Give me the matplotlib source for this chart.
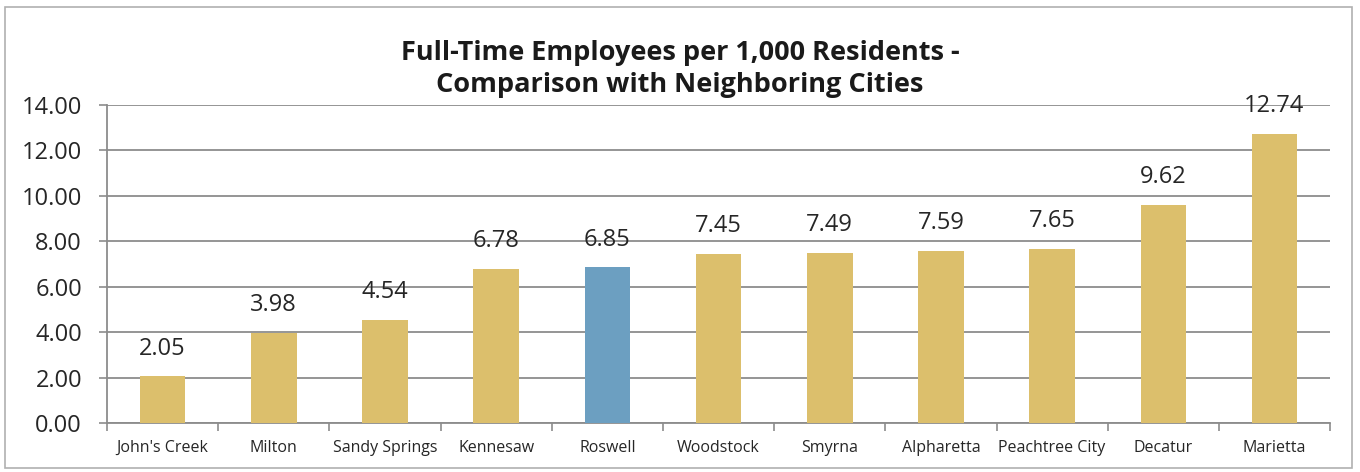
import matplotlib
matplotlib.use("Agg")
import matplotlib.pyplot as plt
from matplotlib.patches import Rectangle
import numpy as np

cities = ["John's Creek", "Milton", "Sandy Springs", "Kennesaw", "Roswell",
          "Woodstock", "Smyrna", "Alpharetta", "Peachtree City", "Decatur", "Marietta"]
employees_per_1000 = [2.05, 3.98, 4.54, 6.78, 6.85, 7.45, 7.49, 7.59, 7.65, 9.62, 12.74]
highlight_city = "Roswell"
y_ticks = [0, 2, 4, 6, 8, 10, 12, 14]

gold = "#dcbf6c"
blue = "#6c9fc1"
grid_gray = "#8c8c8c"
text_color = "#262626"

plt.rcParams['font.family'] = ['Open Sans', 'DejaVu Sans']

fig = plt.figure(figsize=(13.6, 4.72), dpi=100)
ax = fig.add_axes([0.0787, 0.1038, 0.8993, 0.6737])

# outer chart frame
fig.patches.append(Rectangle((0.004, 0.008), 0.99, 0.977, transform=fig.transFigure,
                             fill=False, edgecolor="#b0b0b0", linewidth=1.2))

x = np.arange(len(cities))
colors = [blue if c == highlight_city else gold for c in cities]
ax.bar(x, employees_per_1000, width=0.41, color=colors, zorder=3)

for xi, v in zip(x, employees_per_1000):
    ax.annotate(f"{v:.2f}", xy=(xi, v), xytext=(0, 20), textcoords="offset points",
                ha="center", va="center", fontsize=17, color=text_color, zorder=4)

ax.set_xlim(-0.5, len(cities) - 0.5)
ax.set_ylim(0, 14)
ax.set_yticks(y_ticks)
ax.set_yticklabels([f"{t:.2f}" for t in y_ticks], fontsize=17, color=text_color)
ax.yaxis.grid(True, color=grid_gray, linewidth=1.3, zorder=0)
ax.set_axisbelow(True)

ax.set_xticks(x)
ax.set_xticklabels(cities, fontsize=11.5, color=text_color)
ax.tick_params(axis="x", length=0, pad=12)
ax.set_xticks(np.arange(len(cities) + 1) - 0.5, minor=True)
ax.tick_params(axis="x", which="minor", length=6, width=1.2, color=grid_gray)
ax.tick_params(axis="y", length=6, width=1.2, color=grid_gray, pad=12)

for side in ["top", "right"]:
    ax.spines[side].set_visible(False)
for side in ["left", "bottom"]:
    ax.spines[side].set_color(grid_gray)
    ax.spines[side].set_linewidth(1.3)

fig.text(0.5, 0.853, "Full-Time Employees per 1,000 Residents -\nComparison with Neighboring Cities",
         ha="center", va="center", fontsize=19.5, fontweight="bold", color="#1a1a1a",
         linespacing=1.3)

fig.savefig("out.png", dpi=100, facecolor="white")
